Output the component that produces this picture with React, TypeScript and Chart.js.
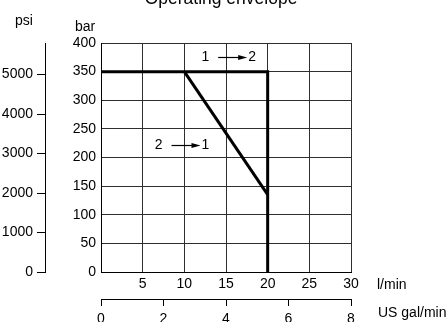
import React, { useEffect, useRef } from 'react';
import { Chart, registerables } from 'chart.js';

Chart.register(...registerables);

const FONT = "'Liberation Sans', Arial, Helvetica, sans-serif";

const TITLE = 'Operating envelope';
const flowTicks = [0, 5, 10, 15, 20, 25, 30];
const barTicks = [0, 50, 100, 150, 200, 250, 300, 350, 400];
const psiTicks = [0, 1000, 2000, 3000, 4000, 5000];
const galTicks = [0, 2, 4, 6, 8];
const BAR_TO_PSI = 14.5038;

const envelopeFlow = [0, 20, 20];
const envelopePressure = [350, 350, 0];
const reverseFlow = [10, 20];
const reversePressure = [350, 135];

const annoFrom = ['1', '2'];
const annoTo = ['2', '1'];
const annoFlow = [15.8, 10.2];
const annoPressure = [376, 222];

const GRID = '#2e2e2e';

const toTicks = (arr: number[]) => arr.map((v) => ({ value: v }));

const textPlugin = {
  id: 'texts',
  afterDraw(chart: any) {
    const ctx = chart.ctx as CanvasRenderingContext2D;
    const xs = chart.scales.x;
    const ys = chart.scales.y;
    const psi = chart.scales.psi;
    const gal = chart.scales.gal;
    ctx.save();
    ctx.fillStyle = '#000';
    ctx.strokeStyle = '#000';
    // title (partly clipped at top)
    ctx.font = `17.5px ${FONT}`;
    ctx.textAlign = 'center';
    ctx.textBaseline = 'alphabetic';
    ctx.fillText(TITLE, (xs.left + xs.right) / 2 - 5, 3.5);

    ctx.font = `14px ${FONT}`;
    ctx.fillText('psi', psi.left + 24, 25);
    ctx.fillText('bar', ys.left + 40, 31);

    ctx.textAlign = 'left';
    ctx.fillText('l/min', xs.right + 26, 289);
    ctx.fillText('US gal/min', gal.right + 27, 317);

    // annotations
    for (let i = 0; i < annoFrom.length; i++) {
      const cx = xs.getPixelForValue(annoFlow[i]);
      const cy = ys.getPixelForValue(annoPressure[i]);
      const x1 = cx - 14.5;
      const x2 = cx + 14.5;
      const yl = Math.round(cy) + 0.5;
      ctx.textBaseline = 'middle';
      ctx.textAlign = 'right';
      ctx.fillText(annoFrom[i], x1 - 9, cy);
      ctx.textAlign = 'left';
      ctx.fillText(annoTo[i], x2 + 1, cy);
      ctx.lineWidth = 1.2;
      ctx.beginPath();
      ctx.moveTo(x1, yl);
      ctx.lineTo(x2 - 7, yl);
      ctx.stroke();
      ctx.beginPath();
      ctx.moveTo(x2, yl);
      ctx.lineTo(x2 - 9, yl - 2.5);
      ctx.lineTo(x2 - 9, yl + 2.5);
      ctx.closePath();
      ctx.fill();
    }
    ctx.restore();
  },
};

export default function App() {
  const ref = useRef<HTMLCanvasElement | null>(null);

  useEffect(() => {
    if (!ref.current) return;
    const chart = new Chart(ref.current, {
      type: 'line',
      data: {
        datasets: [
          {
            data: envelopeFlow.map((f, i) => ({ x: f, y: envelopePressure[i] })),
            borderColor: '#000',
            borderWidth: 3,
            pointRadius: 0,
            fill: false,
            tension: 0,
            borderJoinStyle: 'miter',
            xAxisID: 'x',
            yAxisID: 'y',
          },
          {
            data: reverseFlow.map((f, i) => ({ x: f, y: reversePressure[i] })),
            borderColor: '#000',
            borderWidth: 3,
            pointRadius: 0,
            fill: false,
            tension: 0,
            xAxisID: 'x',
            yAxisID: 'y',
          },
        ],
      },
      options: {
        animation: false,
        responsive: false,
        events: [],
        layout: { padding: { top: 43, right: 96, bottom: 0, left: 0 } },
        plugins: { legend: { display: false }, tooltip: { enabled: false }, title: { display: false } },
        scales: {
          x: {
            type: 'linear',
            position: 'bottom',
            weight: 0,
            min: 0,
            max: 30,
            afterBuildTicks: (s: any) => { s.ticks = toTicks(flowTicks); },
            afterFit: (s: any) => { s.height = 27; },
            ticks: {
              callback: (v: any) => (v === 0 ? '' : String(v)),
              font: { family: FONT, size: 14 },
              color: '#000',
              padding: 4,
              maxRotation: 0,
              autoSkip: false,
            },
            grid: { color: GRID, lineWidth: 1, drawTicks: false },
            border: { color: '#000', width: 1 },
          },
          gal: {
            type: 'linear',
            position: 'bottom',
            weight: 1,
            min: 0,
            max: 8,
            afterBuildTicks: (s: any) => { s.ticks = toTicks(galTicks); },
            afterFit: (s: any) => { s.height = 23; },
            ticks: {
              callback: (v: any) => String(v),
              font: { family: FONT, size: 14 },
              color: '#000',
              padding: 5,
              maxRotation: 0,
              autoSkip: false,
            },
            grid: { drawOnChartArea: false, color: '#000', tickLength: 7, lineWidth: 1 },
            border: { color: '#000', width: 1 },
          },
          y: {
            type: 'linear',
            position: 'left',
            weight: 0,
            min: 0,
            max: 400,
            afterBuildTicks: (s: any) => { s.ticks = toTicks(barTicks); },
            afterFit: (s: any) => { s.width = 56; },
            ticks: {
              callback: (v: any) => String(v),
              font: { family: FONT, size: 14 },
              color: '#000',
              padding: 5,
              autoSkip: false,
            },
            grid: { color: GRID, lineWidth: 1, drawTicks: false },
            border: { color: '#000', width: 1 },
          },
          psi: {
            type: 'linear',
            position: 'left',
            weight: 1,
            min: 0,
            max: 400 * BAR_TO_PSI,
            afterBuildTicks: (s: any) => { s.ticks = toTicks(psiTicks); },
            afterFit: (s: any) => { s.width = 45; },
            ticks: {
              callback: (v: any) => String(v),
              font: { family: FONT, size: 14 },
              color: '#000',
              padding: 4,
              autoSkip: false,
            },
            grid: { drawOnChartArea: false, color: '#000', tickLength: 8, lineWidth: 1 },
            border: { color: '#000', width: 1 },
          },
        },
      } as any,
      plugins: [textPlugin],
    });
    return () => chart.destroy();
  }, []);

  return (
    <div style={{ position: 'absolute', left: 0, top: 0, width: 447, height: 322 }}>
      <canvas ref={ref} width={447} height={322} style={{ display: 'block' }} />
    </div>
  );
}
